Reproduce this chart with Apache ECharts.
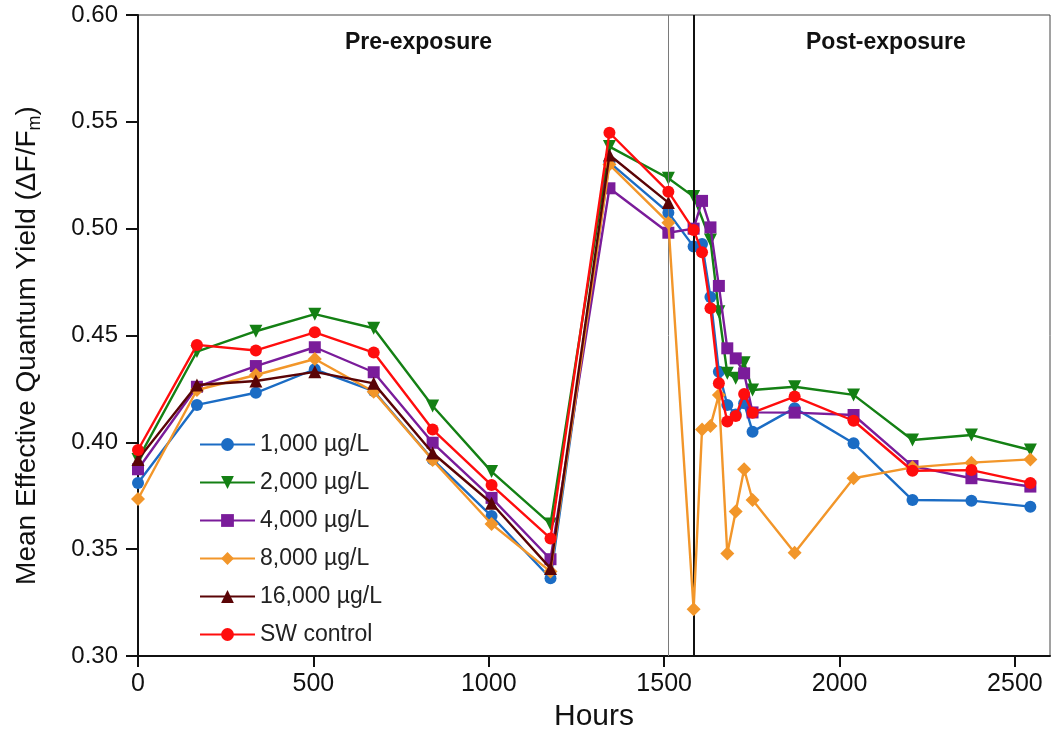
<!DOCTYPE html>
<html>
<head>
<meta charset="utf-8">
<script src="https://cdn.jsdelivr.net/npm/echarts@6/dist/echarts.min.js"></script>
<style>html,body{margin:0;padding:0;background:#fff}#c{width:1051px;height:756px}</style>
</head>
<body>
<div id="c"></div>
<script>
const hours = [0,168,336,504,672,840,1008,1176,1344,1512,1584,1608,1632,1656,1680,1704,1728,1752,1872,2040,2208,2376,2544];
const s1000 = [0.381,0.4175,0.4232,0.4342,0.424,0.392,0.3655,0.3364,0.531,0.5075,0.4916,0.4928,0.468,0.433,0.4175,0.413,0.4183,0.405,0.416,0.3996,0.373,0.3727,0.3699];
const s2000 = [0.392,0.4425,0.452,0.460,0.4534,0.417,0.3863,0.3618,0.5384,0.5236,0.515,null,0.4947,0.4611,0.4323,0.430,0.4373,0.4245,0.426,0.4222,0.4011,0.4034,0.3964];
const s4000 = [0.3874,0.426,0.4357,0.4445,0.4328,0.3998,0.374,0.3453,0.5189,0.4981,0.500,0.513,0.5006,0.4732,0.444,0.4393,0.4323,0.414,0.4139,0.4128,0.3889,0.3832,0.3793];
const s8000 = [0.3735,0.4245,0.4315,0.439,0.4237,0.3917,0.3618,0.3395,0.530,0.5028,0.3219,0.406,0.4077,0.4222,0.348,0.3676,0.3874,0.373,0.3483,0.3832,0.3883,0.3905,0.392];
const s16000 = [0.392,0.4268,0.4287,0.433,0.4276,0.395,0.3715,0.341,0.5345,0.5122,null,null,null,null,null,null,null,null,null,null,null,null,null];
const sSW = [0.3964,0.4456,0.443,0.4515,0.442,0.406,0.380,0.355,0.5449,0.5173,0.4994,0.489,0.4627,0.4276,0.4097,0.4123,0.4226,0.4139,0.4214,0.4101,0.3867,0.387,0.381];
const seriesNames = ['1,000 µg/L','2,000 µg/L','4,000 µg/L','8,000 µg/L','16,000 µg/L','SW control'];
const xTicks = [0,500,1000,1500,2000,2500];
const phaseLines = [1512,1584];
const phaseLabels = ['Pre-exposure','Post-exposure'];

const colors = ['#1b6cc4','#148014','#7a1c9a','#f2962a','#5a0406','#ff0d0d'];
const symbols = ['circle','triangle','rect','diamond','triangle','circle'];
const rotates = [0,180,0,0,0,0];
const sizes = [12,13,12,14,13,12];
const allVals = [s1000,s2000,s4000,s8000,s16000,sSW];
const FONT = 'Liberation Sans, Arial, sans-serif';

function pairs(vals){
  const out = [];
  hours.forEach((h,i)=>{ if (vals[i] !== null) out.push([h, vals[i]]); });
  return out;
}

const series = allVals.map((v,i)=>({
  name: seriesNames[i],
  type: 'line',
  data: pairs(v),
  symbol: symbols[i],
  symbolSize: sizes[i],
  symbolRotate: rotates[i],
  showAllSymbol: true,
  lineStyle: {color: colors[i], width: 2.4},
  itemStyle: {color: colors[i]},
  z: 3 + i
}));

series.push({
  type: 'line',
  data: [],
  silent: true,
  markLine: {
    symbol: 'none',
    silent: true,
    label: {show: false},
    data: [
      {xAxis: phaseLines[0], lineStyle: {color: '#7a7a7a', width: 1, type: 'solid'}},
      {xAxis: phaseLines[1], lineStyle: {color: '#111', width: 2, type: 'solid'}}
    ]
  },
  z: 2
});

const chart = echarts.init(document.getElementById('c'));
chart.setOption({
  animation: false,
  backgroundColor: '#fff',
  textStyle: {fontFamily: FONT},
  grid: {left: 138, right: 1, top: 15, bottom: 100, show: true, borderColor: '#444', borderWidth: 1},
  legend: {
    orient: 'vertical',
    left: 194,
    top: 428,
    itemWidth: 55,
    itemHeight: 16,
    itemGap: 15,
    textStyle: {fontSize: 23, color: '#222', fontFamily: FONT},
    data: seriesNames
  },
  xAxis: {
    type: 'value',
    min: 0, max: 2600,
    interval: 500,
    name: 'Hours',
    nameLocation: 'middle',
    nameGap: 44,
    nameTextStyle: {fontSize: 30, color: '#111'},
    axisLine: {lineStyle: {color: '#111', width: 2}},
    axisTick: {show: true, length: 11, lineStyle: {color: '#111', width: 2}, customValues: xTicks},
    axisLabel: {fontSize: 25, color: '#111', margin: 16, customValues: xTicks, formatter: v => String(v)},
    splitLine: {show: false}
  },
  yAxis: {
    type: 'value',
    min: 0.3, max: 0.6,
    interval: 0.05,
    name: '{a|Mean Effective Quantum Yield (ΔF/F}{s|m}{a|)}',
    nameLocation: 'middle',
    nameGap: 94,
    nameRotate: 90,
    nameTextStyle: {
      color: '#111',
      padding: [0, 20, 0, 0],
      rich: {
        a: {fontSize: 28, color: '#111', fontFamily: FONT},
        s: {fontSize: 18, color: '#111', padding: [15,0,0,0], fontFamily: FONT}
      }
    },
    axisLine: {show: true, lineStyle: {color: '#111', width: 2}},
    axisTick: {show: true, length: 12, lineStyle: {color: '#111', width: 2}},
    axisLabel: {fontSize: 24, color: '#111', margin: 20, formatter: v => v.toFixed(2)},
    splitLine: {show: false}
  },
  graphic: [
    {type: 'text', left: 345, top: 31, style: {text: phaseLabels[0], font: 'bold 23px ' + FONT, fill: '#111'}},
    {type: 'text', left: 806, top: 31, style: {text: phaseLabels[1], font: 'bold 23px ' + FONT, fill: '#111'}}
  ],
  series: series
});
</script>
</body>
</html>
